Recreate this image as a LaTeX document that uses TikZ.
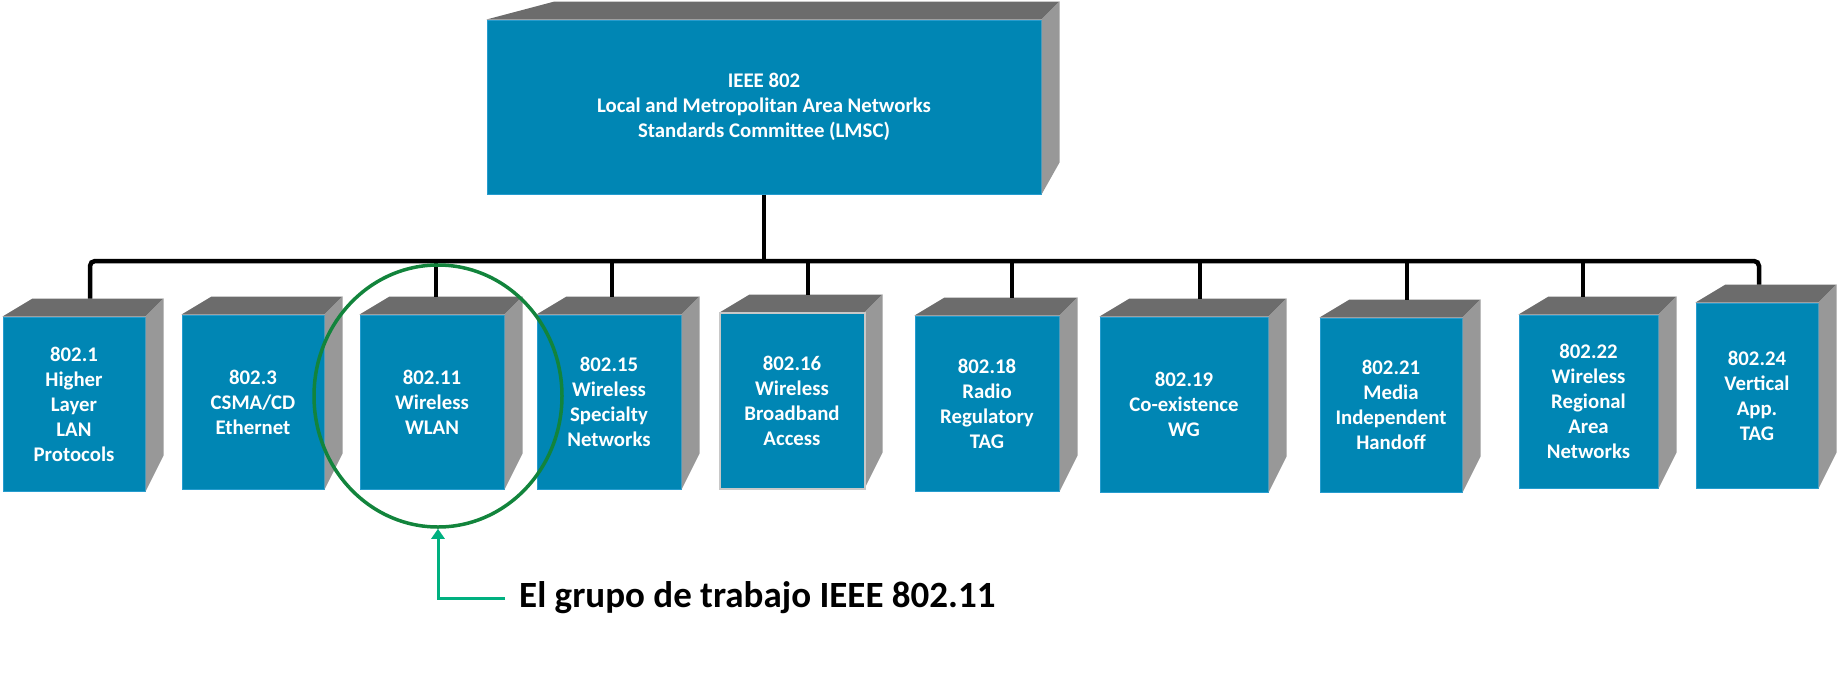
\documentclass[tikz,border=0pt]{standalone}
\usepackage{fontspec}
\setmainfont{Carlito}
\usepackage{tikz}
\usetikzlibrary{calc}
\usetikzlibrary{arrows.meta}
\usetikzlibrary{shapes.geometric}

\definecolor{wgblue}{RGB}{0,134,180}
\definecolor{wgedge}{RGB}{38,156,206}
\definecolor{topgray}{RGB}{108,108,108}
\definecolor{sidegray}{RGB}{152,152,152}
\definecolor{rimgray}{RGB}{200,200,200}
\definecolor{ringgreen}{RGB}{18,132,60}
\definecolor{callgreen}{RGB}{0,176,128}

\begin{document}
\begin{tikzpicture}[x=1pt,y=-1pt,
    wg/.style={fill=wgblue,draw=wgedge,line width=1pt,text=white,align=center,
      inner sep=0pt,font=\bfseries\fontsize{20.8}{25}\selectfont},
    bus/.style={black,line width=4.5pt},
    topface/.style={fill=topgray},
    sideface/.style={fill=sidegray}]
  \useasboundingbox (0,0) rectangle (1841,672);
  % committee box
  \node[wg,minimum width=554,minimum height=174] (lmsc) at (764,107)
    {IEEE 802\\Local and Metropolitan Area Networks\\Standards Committee (LMSC)};
  \fill[topface] (lmsc.north west) -- ++(68,-18) -- ($(lmsc.north east)+(18,-18)$)
    -- (lmsc.north east) -- cycle;
  \fill[sideface] (lmsc.north east) -- ++(18,-18) -- ($(lmsc.south east)+(18,-32)$)
    -- (lmsc.south east) -- cycle;
  % working groups
  \foreach \n/\xa/\ya/\xb/\yb/\txt in {
      1/3/317/145/491/{802.1\\Higher\\Layer\\LAN\\Protocols},
      3/182/315/324/489/{802.3\\CSMA/CD\\Ethernet},
      11/360/315/504/489/{802.11\\Wireless\\WLAN},
      15/537/315/681/489/{802.15\\Wireless\\Specialty\\Networks},
      16/720/313/864/488/{802.16\\Wireless\\Broadband\\Access},
      18/915/316/1059/491/{802.18\\Radio\\Regulatory\\TAG},
      19/1100/317/1268/492/{802.19\\Co-existence\\WG},
      21/1320/318/1462/492/{802.21\\Media\\Independent\\Handoff},
      22/1519/315/1658/488/{802.22\\Wireless\\Regional\\Area\\Networks},
      24/1696/303/1818/488/{802.24\\Vertical\\App.\\TAG}} {
      \node[wg,minimum width=\xb-\xa,minimum height=\yb-\ya] (b\n)
        at ({(\xa+\xb)/2},{(\ya+\yb)/2}) {\txt};
      \fill[topface] (b\n.north west) -- ++(30,-18) -- ($(b\n.north east)+(18,-18)$)
        -- (b\n.north east) -- cycle;
      \fill[sideface] (b\n.north east) -- ++(18,-18) -- ($(b\n.south east)+(18,-36)$)
        -- (b\n.south east) -- cycle;
    }
  \draw[rimgray,line width=2pt] (b16.north west) rectangle (b16.south east);
  % bus and drops
  \coordinate (bus) at (0,261);
  \foreach \n/\dx in {1/90,11/436,15/612,16/808,18/1012,19/1200,21/1407,22/1583,24/1759} {
      \path (\dx,0 |- b\n.north) ++(0,-18) coordinate (t\n);
    }
  \draw[bus,rounded corners=5pt] (t1) |- (t24 |- bus) -- (t24);
  \foreach \n in {11,15,16,18,19,21,22} {
      \draw[bus] (t\n |- bus) -- (t\n);
    }
  \draw[bus] (lmsc.south) -- (lmsc.south |- bus);
  % highlight
  \node[draw=ringgreen,line width=3.5pt,ellipse,minimum width=248,minimum height=262,
    inner sep=0pt] (ring) at (438,396) {};
  \node[anchor=west,inner sep=0pt,font=\bfseries\fontsize{37}{44}\selectfont] (lbl)
    at (519,598) {El grupo de trabajo IEEE 802.11};
  \coordinate (callout) at ($(lbl.west)+(-14,0)$);
  \draw[callgreen,line width=3pt,-{Triangle[width=13pt,length=10pt]}] (callout) -| (ring.south);
\end{tikzpicture}
\end{document}
